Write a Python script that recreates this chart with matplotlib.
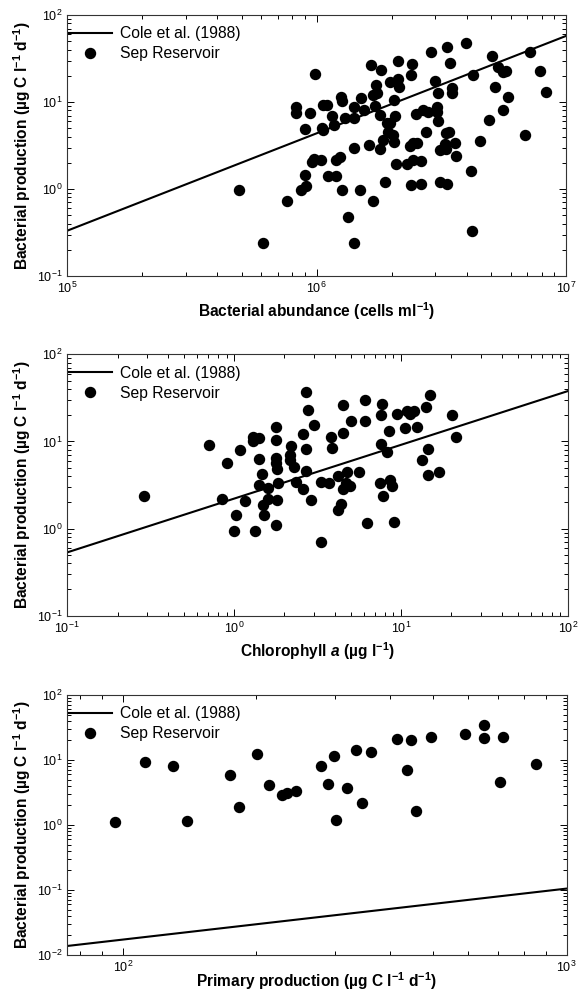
import numpy as np
import matplotlib
matplotlib.use("Agg")
import matplotlib.pyplot as plt

plt.rcParams["font.family"] = ["Liberation Sans", "DejaVu Sans"]
plt.rcParams["mathtext.fontset"] = "custom"
plt.rcParams["mathtext.rm"] = "Liberation Sans"
plt.rcParams["mathtext.bf"] = "Liberation Sans:bold"
plt.rcParams["mathtext.it"] = "Liberation Sans:italic:bold"

# panel 1: bacterial abundance (cells/ml) vs bacterial production
ba_x = [4.9e5, 6.1e5, 7.6e5, 8.3e5, 8.3e5, 9.0e5, 9.4e5, 9.9e5, 9.0e5, 9.06e5,
        8.7e5, 9.55e5, 9.8e5, 1.04e6, 1.05e6, 1.06e6, 1.06e6, 1.10e6, 1.11e6, 1.15e6,
        1.18e6, 1.20e6, 1.20e6, 1.24e6, 1.25e6, 1.26e6, 1.26e6, 1.30e6, 1.34e6, 1.41e6,
        1.42e6, 1.41e6, 1.41e6, 1.50e6, 1.51e6, 1.55e6, 1.63e6, 1.66e6, 1.68e6, 1.69e6,
        1.71e6, 1.73e6, 1.75e6, 1.79e6, 1.79e6, 1.81e6, 1.85e6, 1.88e6, 1.91e6, 1.94e6,
        1.97e6, 1.98e6, 2.03e6, 2.05e6, 2.05e6, 2.06e6, 2.09e6, 2.12e6, 2.12e6, 2.15e6,
        2.31e6, 2.37e6, 2.39e6, 2.41e6, 2.40e6, 2.43e6, 2.44e6, 2.50e6, 2.52e6, 2.62e6,
        2.62e6, 2.68e6, 2.74e6, 2.80e6, 2.89e6, 2.98e6, 3.03e6, 3.03e6, 3.06e6, 3.08e6,
        3.12e6, 3.12e6, 3.27e6, 3.32e6, 3.32e6, 3.35e6, 3.35e6, 3.40e6, 3.43e6, 3.48e6,
        3.50e6, 3.59e6, 3.64e6, 3.97e6, 4.16e6, 4.19e6, 4.25e6, 4.52e6, 4.91e6, 5.08e6,
        5.19e6, 5.35e6, 5.60e6, 5.60e6, 5.78e6, 5.89e6, 6.85e6, 7.18e6, 7.87e6, 8.36e6]
ba_y = [0.975, 0.24, 0.72, 8.8, 7.5, 4.85, 7.4, 21.2, 1.45, 1.08,
        0.975, 2.04, 2.19, 2.15, 5.07, 4.76, 9.17, 9.17, 1.41, 6.9,
        5.44, 1.43, 2.15, 2.36, 11.5, 10.4, 0.98, 6.5, 0.48, 6.5,
        8.8, 2.96, 0.24, 0.98, 11.0, 8.1, 3.2, 26.4, 0.72, 12.2,
        9.0, 15.6, 12.8, 7.1, 2.88, 23.6, 3.66, 1.19, 5.7, 4.56,
        17.1, 5.75, 4.18, 10.5, 3.5, 6.9, 1.92, 29.9, 18.2, 15.0,
        1.92, 3.12, 20.4, 27.1, 1.11, 2.15, 3.4, 7.3, 3.4, 2.1,
        1.13, 8.1, 4.5, 7.7, 37.2, 17.4, 8.7, 7.7, 12.6, 6.1,
        2.8, 1.2, 3.3, 4.46, 2.85, 1.15, 43.2, 4.5, 27.8, 14.4,
        12.6, 3.4, 2.42, 48.1, 1.63, 0.33, 20.4, 3.6, 6.2, 34.1,
        14.7, 25.5, 22.2, 8.1, 22.9, 11.5, 4.18, 37.2, 22.9, 13.0]
cole_ba_x = [1e5, 1e7]
cole_ba_y = [0.332, 57.4]

# panel 2: chlorophyll a vs bacterial production
chl_x = [0.29, 0.705, 0.848, 0.90, 1.0, 1.03, 1.08, 1.16, 1.30, 1.30,
         1.34, 1.40, 1.40, 1.40, 1.46, 1.49, 1.51, 1.59, 1.59, 1.79,
         1.79, 1.79, 1.79, 1.81, 1.82, 1.81, 1.79, 2.18, 2.15, 2.17,
         2.29, 2.34, 2.59, 2.59, 2.69, 2.69, 2.69, 2.77, 2.90, 3.0,
         3.29, 3.29, 3.71, 3.79, 3.83, 4.16, 4.36, 4.20, 4.46, 4.50,
         4.50, 4.67, 4.71, 4.93, 4.98, 5.61, 6.06, 6.06, 6.29, 7.45,
         7.63, 7.63, 7.73, 7.8, 8.24, 8.43, 8.55, 8.83, 9.04, 9.42,
         10.6, 10.9, 11.3, 11.9, 12.4, 13.4, 14.1, 14.4, 14.5, 14.9,
         16.9, 20.2, 21.2]
chl_y = [2.38, 9.19, 2.16, 5.7, 0.95, 1.44, 8.0, 2.09, 11.3, 10.2,
         0.95, 10.9, 6.3, 3.19, 4.23, 1.88, 1.44, 2.92, 2.16, 14.8,
         10.3, 6.45, 5.7, 4.86, 3.33, 2.15, 1.11, 8.9, 6.98, 6.1,
         5.08, 3.45, 12.1, 2.87, 36.6, 8.2, 4.61, 23.0, 2.13, 15.3,
         0.71, 3.4, 3.37, 11.1, 8.5, 1.63, 1.93, 4.05, 2.82, 26.2,
         12.4, 3.37, 4.45, 3.1, 17.0, 4.5, 29.6, 17.2, 1.16, 3.3,
         20.1, 9.27, 26.9, 2.38, 7.63, 13.1, 3.6, 3.1, 1.2, 20.8,
         14.1, 22.5, 20.8, 22.6, 14.5, 6.2, 25.1, 8.1, 4.15, 33.8,
         4.5, 20.1, 11.3]
cole_chl_x = [0.1, 100]
cole_chl_y = [0.533, 37.9]

# panel 3: primary production vs bacterial production
pp_x = [96.3, 112.5, 129.5, 139.4, 174.4, 182.7, 201, 213, 228.8, 235,
        246, 280, 289.5, 299, 302, 320, 335.5, 346.8, 361.5, 415,
        437.7, 445.6, 457, 496, 591, 650, 650, 708, 718, 855]
pp_y = [1.11, 9.2, 8.1, 1.17, 5.8, 1.91, 12.5, 4.12, 2.93, 3.14,
        3.33, 8.2, 4.22, 11.5, 1.19, 3.66, 14.4, 2.15, 13.1, 21.0,
        7.0, 20.3, 1.62, 22.9, 25.4, 34.1, 21.8, 4.53, 22.9, 8.67]
cole_pp_x = [75, 1000]
cole_pp_y = [0.01375, 0.105]

YLABEL = r"Bacterial production (µg C l$^{\mathbf{-1}}$ d$^{\mathbf{-1}}$)"

panels = [
    dict(rect=[0.1162, 0.7212, 0.8610, 0.2636], x=ba_x, y=ba_y,
         cx=cole_ba_x, cy=cole_ba_y, xlim=(1e5, 1e7), ylim=(0.1, 100),
         xlabel=r"Bacterial abundance (cells ml$^{\mathbf{-1}}$)", lpad=3),
    dict(rect=[0.1162, 0.3781, 0.8648, 0.2640], x=chl_x, y=chl_y,
         cx=cole_chl_x, cy=cole_chl_y, xlim=(0.1, 100), ylim=(0.1, 100),
         xlabel=r"Chlorophyll $\mathit{a}$ (µg l$^{\mathbf{-1}}$)", lpad=3),
    dict(rect=[0.1162, 0.0354, 0.8625, 0.2626], x=pp_x, y=pp_y,
         cx=cole_pp_x, cy=cole_pp_y, xlim=(75, 1000), ylim=(0.01, 100),
         xlabel=r"Primary production (µg C l$^{\mathbf{-1}}$ d$^{\mathbf{-1}}$)", lpad=-3.5),
]

fig = plt.figure(figsize=(5.79, 9.90), dpi=100)

for p in panels:
    ax = fig.add_axes(p["rect"])
    ax.plot(p["cx"], p["cy"], "-", color="black", lw=1.5, label="Cole et al. (1988)")
    ax.plot(p["x"], p["y"], "o", color="black", ms=7.2, ls="none", label="Sep Reservoir")
    ax.set_xscale("log")
    ax.set_yscale("log")
    ax.set_xlim(*p["xlim"])
    ax.set_ylim(*p["ylim"])
    ax.tick_params(which="both", direction="in", top=True, right=True,
                   labelsize=9, width=0.7)
    ax.tick_params(which="major", length=5)
    ax.tick_params(which="minor", length=3)
    for s in ax.spines.values():
        s.set_linewidth(0.8)
        s.set_color("#333333")
    ax.set_xlabel(p["xlabel"], fontsize=11.2, fontweight="bold", labelpad=p["lpad"])
    ax.set_ylabel(YLABEL, fontsize=11.2, fontweight="bold", labelpad=3)
    ax.legend(loc="upper left", bbox_to_anchor=(0.004, 0.957), frameon=False,
              fontsize=11.3, handlelength=2.7, borderaxespad=0, borderpad=0,
              labelspacing=0.33, handletextpad=0.55, numpoints=1)

fig.savefig("out.png", dpi=100)
